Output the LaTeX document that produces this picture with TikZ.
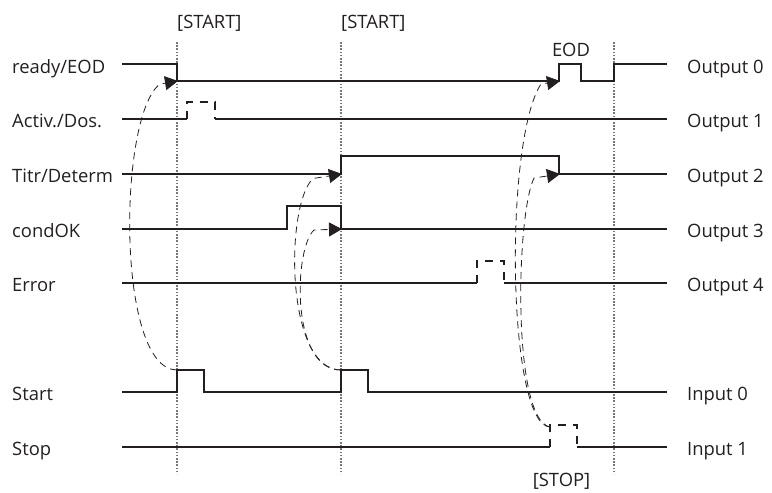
\documentclass[tikz,border=0pt]{standalone}
\usepackage{fontspec}
\setmainfont{Open Sans}
\usetikzlibrary{arrows.meta}
\definecolor{ink}{HTML}{231F20}
\definecolor{dotgray}{HTML}{777777}
\tikzset{
  sig/.style={draw=ink, line width=1.3pt, line join=miter},
  sigdash/.style={draw=ink, line width=1.2pt, dash pattern=on 8pt off 7pt},
  guide/.style={draw=dotgray, line width=1.1pt, dash pattern=on 1.6pt off 1.6pt},
  link/.style={draw=ink, line width=0.8pt, dash pattern=on 7pt off 5pt, -{Triangle[length=13pt,width=14pt]}},
  lbl/.style={anchor=base west, inner sep=0pt, text=ink, font=\fontsize{18.4}{22}\selectfont},
  lblc/.style={anchor=base, inner sep=0pt, text=ink, font=\fontsize{18.4}{22}\selectfont},
}
\begin{document}
\begin{tikzpicture}[x=1pt,y=-1pt]
\useasboundingbox (0,0) rectangle (772,493);

% guide lines
\draw[guide] (177,42) -- (177,474);
\draw[guide] (341,42) -- (341,474);
\draw[guide] (614,42) -- (614,474);

% top labels
\node[lbl] (st1) at (177,28.5) {[START]};
\node[lbl] (st2) at (341,28.5) {[START]};
\node[lblc] (eod) at (571,56.5) {EOD};
\node[lblc] (stp) at (561.5,486) {[STOP]};

% left labels
\node[lbl] (l0) at (12,73.5) {ready/EOD};
\node[lbl] (l1) at (12,127) {Activ./Dos.};
\node[lbl] (l2) at (12,182) {Titr/Determ};
\node[lbl] (l3) at (12,237) {condOK};
\node[lbl] (l4) at (12,291) {Error};
\node[lbl] (l5) at (12,400) {Start};
\node[lbl] (l6) at (12,455.5) {Stop};

% right labels
\node[lbl] (r0) at (687,73.5) {Output 0};
\node[lbl] (r1) at (687,127) {Output 1};
\node[lbl] (r2) at (687,182) {Output 2};
\node[lbl] (r3) at (687,237) {Output 3};
\node[lbl] (r4) at (687,291) {Output 4};
\node[lbl] (r5) at (687,400) {Input 0};
\node[lbl] (r6) at (687,455.5) {Input 1};

% signals
\draw[sig] (122,64) -- (177,64) -- (177,81) -- (559,81) -- (559,64) -- (581,64) -- (581,81) -- (614,81) -- (614,64) -- (667,64);

\draw[sig] (122,119) -- (187,119);
\draw[sigdash] (187,119) -- (187,102) -- (215,102) -- (215,119);
\draw[sig] (215,119) -- (667,119);

\draw[sig] (122,174) -- (341,174) -- (341,156) -- (559,156) -- (559,174) -- (667,174);

\draw[sig] (122,229) -- (287,229) -- (287,206) -- (341,206) -- (341,229) -- (667,229);

\draw[sig] (122,283) -- (477,283);
\draw[sigdash] (477,283) -- (477,261) -- (504,261) -- (504,283);
\draw[sig] (504,283) -- (667,283);

\draw[sig] (122,392) -- (177,392) -- (177,370) -- (204,370) -- (204,392) -- (341,392) -- (341,370) -- (368,370) -- (368,392) -- (667,392);

\draw[sig] (122,447) -- (550,447);
\draw[sigdash] (550,447) -- (550,425) -- (577,425) -- (577,447);
\draw[sig] (577,447) -- (667,447);

% link coordinates
\coordinate (s1) at (177,370);
\coordinate (s2) at (341,370);
\coordinate (sp) at (550,427);
\coordinate (a0) at (178,81);
\coordinate (a2) at (342,174);
\coordinate (a3) at (342,229);
\coordinate (b0) at (560,81);
\coordinate (b2) at (560,174);

% dashed causal links
\draw[link] (s1) .. controls (116,370) and (118,115) .. (160,84) -- (a0);
\draw[link] (s2) .. controls (285,370) and (285,205) .. (313,178.5) -- (a2);
\draw[link] (s2) .. controls (290,370) and (294,248) .. (314,230) -- (a3);
\draw[link] (sp) .. controls (507,425) and (504,140) .. (541,84) -- (b0);
\draw[link] (sp) .. controls (512,420) and (516,215) .. (534,178) -- (b2);
\end{tikzpicture}
\end{document}
